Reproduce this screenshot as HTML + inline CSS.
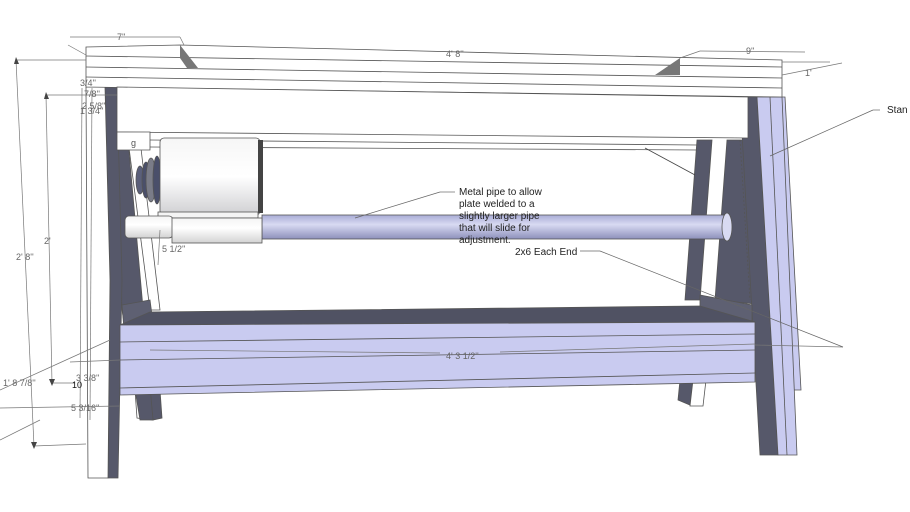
<!DOCTYPE html>
<html><head><meta charset="utf-8"><style>
html,body{margin:0;padding:0;background:#fff;}
svg{display:block;}
text{font-family:"Liberation Sans",sans-serif;}
</style></head><body>
<svg width="910" height="512" viewBox="0 0 910 512" xmlns="http://www.w3.org/2000/svg">
<defs>
<linearGradient id="cyl" x1="0" y1="0" x2="0" y2="1">
<stop offset="0" stop-color="#f6f6f6"/><stop offset="0.5" stop-color="#ffffff"/><stop offset="1" stop-color="#cfcfd2"/></linearGradient>
<linearGradient id="pipe" x1="0" y1="0" x2="0" y2="1">
<stop offset="0" stop-color="#a9acd6"/><stop offset="0.4" stop-color="#d8daf2"/><stop offset="1" stop-color="#8d90bb"/></linearGradient>
<linearGradient id="sleeve" x1="0" y1="0" x2="0" y2="1">
<stop offset="0" stop-color="#f4f4f4"/><stop offset="0.4" stop-color="#ffffff"/><stop offset="1" stop-color="#d2d2d2"/></linearGradient>
</defs>
<g stroke="#555" stroke-width="0.8" fill="none">
<!-- back right leg strip -->
<polygon points="775,97 785,97 801,390 790,390" fill="#c9cbf0"/>
<!-- right inner dark region -->
<polygon points="727,140 752,140 766,305 715,300" fill="#56586a"/>
<!-- right dark leg side -->
<polygon points="740,97 757,97 778,455 760,455" fill="#56586a"/>
<!-- right light blue leg -->
<polygon points="757,97 782,97 797,455 778,455" fill="#c9cbf0"/>
<line x1="770" y1="97" x2="787" y2="455"/>
<!-- right inner diagonal -->
<polygon points="697,140 712,140 700,300 685,300" fill="#56586a"/>
<line x1="740" y1="140" x2="750" y2="300" stroke-dasharray="2,2"/>
<!-- right crossbar -->
<polygon points="700,295 752,305 752,322 700,312" fill="#5e6072"/>
<!-- right foot -->
<polygon points="680,380 693,380 690,405 678,400" fill="#56586a"/>
<polygon points="693,380 706,380 703,406 690,406" fill="#fff"/>
<!-- left foot -->
<polygon points="135,390 150,390 153,420 137,418" fill="#fff"/>
<polygon points="150,390 160,390 162,418 153,420" fill="#56586a"/>
<!-- left inner diagonal dark -->
<polygon points="117,140 128,140 153,420 140,420 122,310" fill="#56586a"/>
<polygon points="128,140 140,140 160,310 150,310" fill="#fff"/>
<polygon points="122,305 150,300 152,315 124,330" fill="#5e6072"/>
<!-- left leg dark side -->
<polygon points="105,87 117,87 122,280 118,478 108,478 110,280" fill="#56586a"/>
<!-- left white leg -->
<polygon points="86,87 105,87 110,280 108,478 88,478" fill="#fff"/>
<!-- top board -->
<polygon points="86,47 180,45 782,60 782,97 86,87" fill="#fff"/>
<line x1="86" y1="56" x2="782" y2="67"/>
<line x1="86" y1="67" x2="782" y2="78"/>
<line x1="86" y1="77" x2="782" y2="88"/>
<polygon points="180,45 198,68 187,68 180,58" fill="#777" stroke="none"/>
<polygon points="680,58 655,75 680,75" fill="#777" stroke="none"/>
<!-- apron -->
<polygon points="117,87 748,97 748,138 117,132" fill="#fff"/>
<polygon points="117,132 150,132 150,150 117,150" fill="#fff"/>
<text x="131" y="146" font-size="9" fill="#555" stroke="none">g</text>
<line x1="150" y1="140" x2="697" y2="145"/>
<line x1="150" y1="147" x2="697" y2="150"/>
<line x1="645" y1="148" x2="695" y2="175" stroke="#444"/>
<!-- shelf -->
<polygon points="120,325 150,312 700,306 755,322" fill="#505263"/>
<polygon points="120,325 755,322 755,382 120,395" fill="#c9cbf0"/>
<line x1="120" y1="342" x2="755" y2="334"/>
<line x1="120" y1="360" x2="755" y2="350"/>
<line x1="120" y1="388" x2="755" y2="373"/>
<!-- pulleys -->
<ellipse cx="140" cy="180" rx="4" ry="14" fill="#5a5f7a"/>
<ellipse cx="146" cy="180" rx="4" ry="18" fill="#4a4f6a"/>
<ellipse cx="151" cy="180" rx="5" ry="22" fill="#7a7c88"/>
<ellipse cx="157" cy="180" rx="4" ry="24" fill="#4a4f6a"/>
<!-- motor -->
<rect x="160" y="138" width="100" height="77" rx="4" fill="url(#cyl)"/>
<rect x="258" y="140" width="5" height="73" fill="#444" stroke="none"/>
<!-- pipe -->
<rect x="262" y="215" width="462" height="24" fill="url(#pipe)"/>
<ellipse cx="727" cy="227" rx="5" ry="14" fill="#d8daf2"/>
<!-- sleeve -->
<rect x="158" y="212" width="100" height="6" fill="#f4f4f4"/>
<rect x="125" y="216" width="48" height="22" rx="4" fill="url(#sleeve)"/>
<rect x="172" y="218" width="90" height="25" fill="url(#sleeve)"/>
</g>
<!-- dimension lines -->
<g stroke="#777" stroke-width="0.7" fill="none">
<line x1="70" y1="37" x2="180" y2="37"/><line x1="68" y1="45" x2="86" y2="55"/>
<line x1="180" y1="37" x2="184" y2="45"/>
<line x1="700" y1="51" x2="805" y2="52"/><line x1="680" y1="58" x2="700" y2="51"/>
<line x1="782" y1="75" x2="842" y2="63"/><line x1="782" y1="62" x2="830" y2="62"/>
<line x1="16" y1="60" x2="86" y2="60"/><line x1="16" y1="60" x2="34" y2="446"/>
<line x1="34" y1="446" x2="86" y2="444"/>
<line x1="46" y1="95" x2="117" y2="95"/><line x1="46" y1="95" x2="52" y2="383"/>
<line x1="52" y1="383" x2="75" y2="383"/>
<line x1="82" y1="88" x2="80" y2="418"/><line x1="92" y1="88" x2="90" y2="420"/>
<line x1="70" y1="362" x2="120" y2="360"/><line x1="55" y1="365" x2="110" y2="340"/>
<line x1="0" y1="408" x2="120" y2="406"/><line x1="0" y1="390" x2="55" y2="365"/>
<line x1="0" y1="440" x2="40" y2="420"/>
<line x1="160" y1="230" x2="158" y2="265"/>
<line x1="755" y1="345" x2="843" y2="347"/>
<line x1="150" y1="350" x2="440" y2="353"/><line x1="500" y1="352" x2="755" y2="344"/>
</g>
<g fill="#444" stroke="none">
<polygon points="14,64 19,64 16,57"/><polygon points="31,442 37,442 34,449"/>
<polygon points="44,99 49,99 46,92"/><polygon points="49,379 55,379 52,386"/>
</g>
<!-- leader lines -->
<g stroke="#666" stroke-width="0.7" fill="none">
<line x1="455" y1="192" x2="440" y2="192"/><line x1="440" y1="192" x2="355" y2="218"/>
<line x1="580" y1="251" x2="600" y2="251"/><line x1="600" y1="251" x2="843" y2="347"/>
<line x1="880" y1="110" x2="873" y2="110"/><line x1="873" y1="110" x2="770" y2="156"/>
</g>
<g fill="#666" font-size="9">
<text x="117" y="40">7''</text>
<text x="446" y="57">4' 8''</text>
<text x="746" y="54">9''</text>
<text x="805" y="76">1'</text>
<text x="80" y="86">3/4''</text>
<text x="84" y="97">7/8''</text>
<text x="82" y="109">2 5/8''</text>
<text x="80" y="114">1 3/4''</text>
<text x="44" y="244">2'</text>
<text x="16" y="260">2' 8''</text>
<text x="162" y="252">5 1/2''</text>
<text x="76" y="381">3 3/8''</text>
<text x="3" y="386">1' 8 7/8''</text>
<text x="71" y="411">5 3/16''</text>
<text x="446" y="359">4' 3 1/2''</text>
</g>
<text x="72" y="388" font-size="9" fill="#111">10</text>
<g fill="#222" font-size="10">
<text x="459" y="195">Metal pipe to allow</text>
<text x="459" y="207">plate welded to a</text>
<text x="459" y="219">slightly larger pipe</text>
<text x="459" y="231">that will slide for</text>
<text x="459" y="243">adjustment.</text>
<text x="515" y="255">2x6 Each End</text>
<text x="887" y="113">Stan</text>
</g>
</svg>
</body></html>
